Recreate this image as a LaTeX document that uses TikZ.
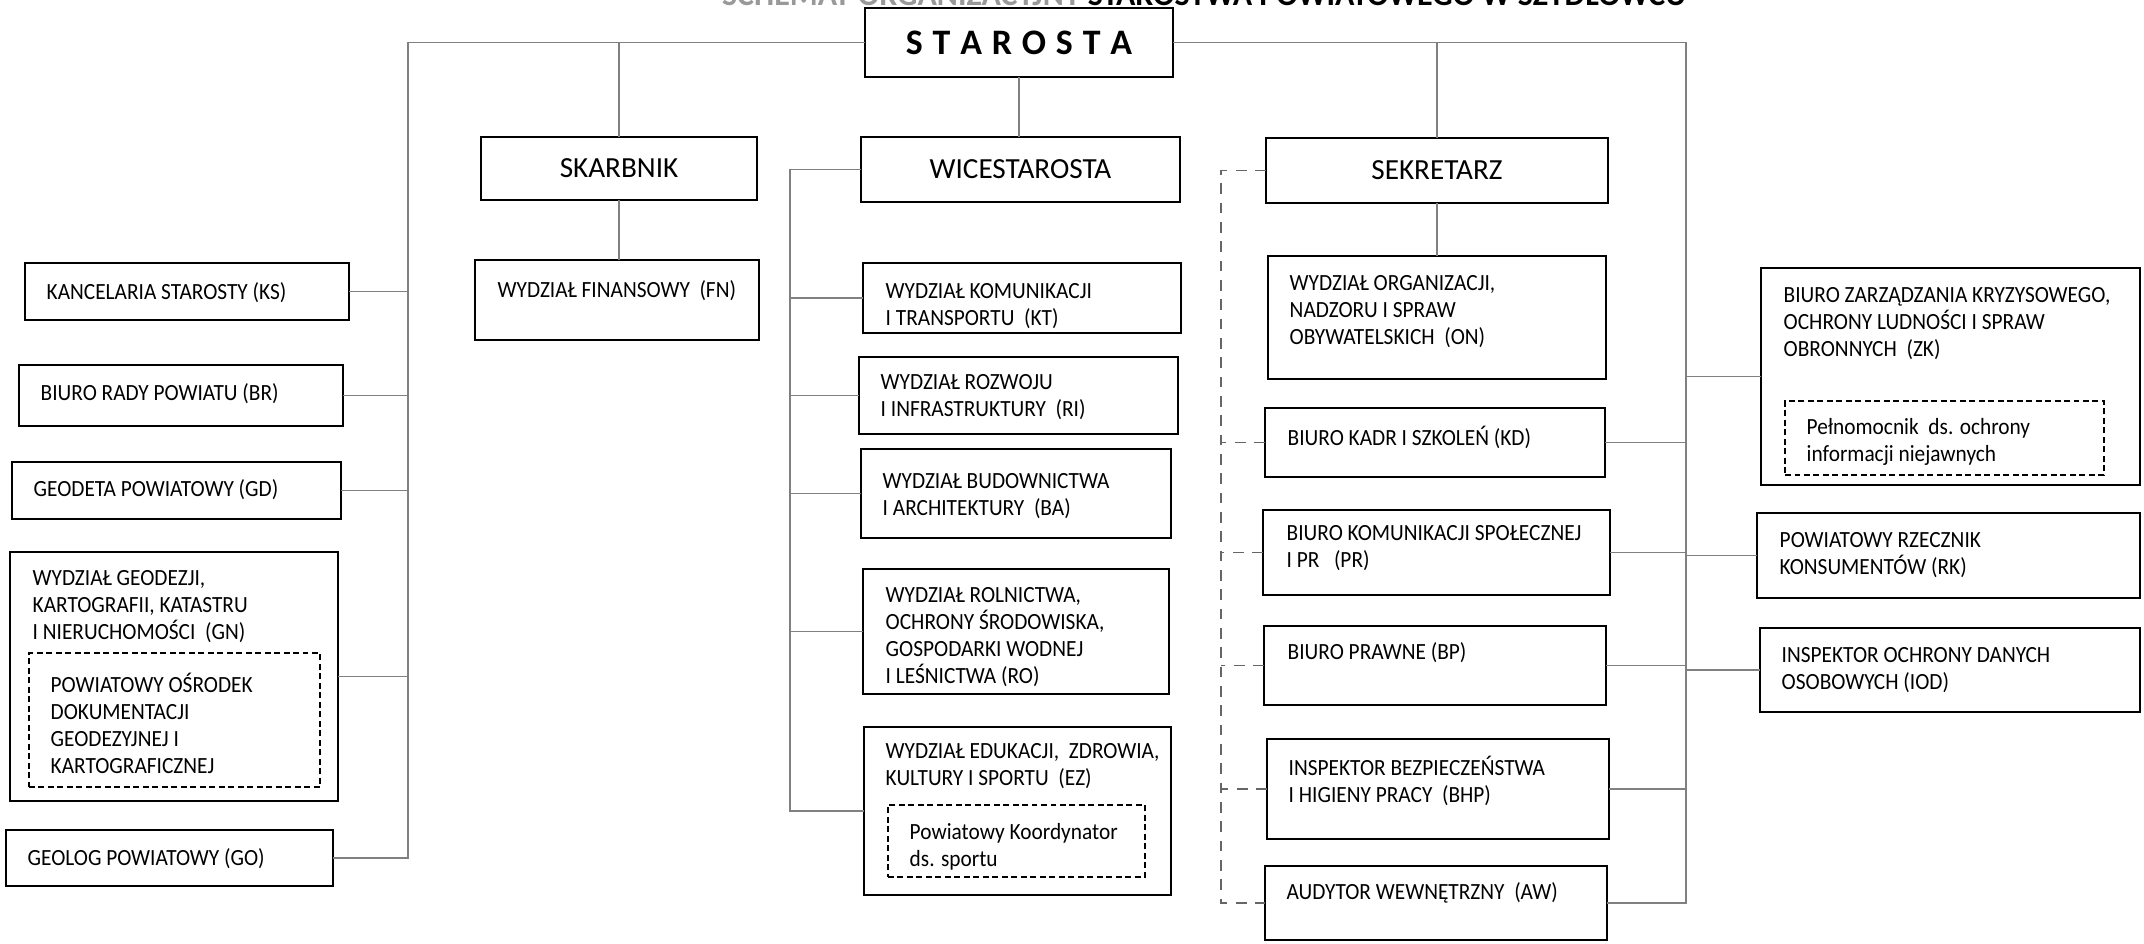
\documentclass[tikz,border=0pt]{standalone}
\usepackage{fontspec}
\setmainfont{Carlito}
\newfontfamily\narrowfont{Carlito}[FakeStretch=0.92]
\usetikzlibrary{fit}

\begin{document}
\begin{tikzpicture}
  % Ramka.
  \clip (0,0) rectangle (21.44,9.44);

  \tikzstyle{unit}=[draw, line width=0.6pt, inner sep=0pt, outer sep=0pt]
  \tikzstyle{inner}=[draw, line width=0.5pt, dash pattern=on 1.7pt off 1pt, inner sep=0pt, outer sep=0pt]
  \tikzstyle{head}=[inner sep=0pt, font=\fontsize{8.3}{10}\selectfont]
  \tikzstyle{txt}=[anchor=north west, inner sep=0pt, align=left, font=\narrowfont\fontsize{6.6}{7.7}\selectfont]
  \tikzstyle{link}=[draw=black!50, line width=0.35pt]
  \tikzstyle{dlink}=[draw=black!60, line width=0.4pt, dash pattern=on 3pt off 2.5pt]

  % Tytul.
  \node[anchor=base east, inner sep=0pt, font=\bfseries\fontsize{9.1}{11}\selectfont] (title) at (16.87,9.38)
    {{\color{black!40}SCHEMAT ORGANIZACYJNY} STAROSTWA POWIATOWEGO W SZYDŁOWCU};

  % Kierownictwo.
  \node[unit, fit={(8.65,9.36) (11.73,8.67)},
    label={[inner sep=0pt, font=\bfseries\fontsize{10.2}{12}\selectfont]center:S\kern2.8pt T\kern2.8pt A\kern2.8pt R\kern2.8pt O\kern2.8pt S\kern2.8pt T\kern2.8pt A}] (starosta) {};
  \node[unit, fit={(4.81,8.07) (7.57,7.44)}, label={[head]center:SKARBNIK}] (skarbnik) {};
  \node[unit, fit={(8.61,8.07) (11.80,7.42)}, label={[head]center:WICESTAROSTA}] (wice) {};
  \node[unit, fit={(12.66,8.06) (16.08,7.41)}, label={[head]center:SEKRETARZ}] (sekretarz) {};

  % Komorki lewe.
  \node[unit, fit={(0.25,6.81) (3.49,6.24)}] (ks) {};
  \node[unit, fit={(0.19,5.79) (3.43,5.18)}] (br) {};
  \node[unit, fit={(0.12,4.82) (3.41,4.25)}] (gd) {};
  \node[unit, fit={(0.10,3.92) (3.38,1.43)}] (gn) {};
  \node[inner, fit={(0.29,2.91) (3.20,1.57)}] (pod) {};
  \node[unit, fit={(0.06,1.14) (3.33,0.58)}] (go) {};
  \node[unit, fit={(4.75,6.84) (7.59,6.04)}] (fn) {};

  \node[txt] (ks-t) at ([shift={(0.21,-0.19)}]ks.north west) {KANCELARIA STAROSTY (KS)};
  \node[txt] (br-t) at ([shift={(0.21,-0.18)}]br.north west) {BIURO RADY POWIATU (BR)};
  \node[txt] (gd-t) at ([shift={(0.21,-0.17)}]gd.north west) {GEODETA POWIATOWY (GD)};
  \node[txt] (gn-t) at ([shift={(0.22,-0.18)}]gn.north west) {WYDZIAŁ GEODEZJI,\\KARTOGRAFII, KATASTRU\\I NIERUCHOMOŚCI\ \ (GN)};
  \node[txt] (pod-t) at ([shift={(0.21,-0.19)}]pod.north west) {POWIATOWY OŚRODEK\\DOKUMENTACJI\\GEODEZYJNEJ I\\KARTOGRAFICZNEJ};
  \node[txt] (go-t) at ([shift={(0.21,-0.18)}]go.north west) {GEOLOG POWIATOWY (GO)};
  \node[txt] (fn-t) at ([shift={(0.22,-0.20)}]fn.north west) {WYDZIAŁ FINANSOWY\ \ (FN)};

  % Wydzialy wicestarosty.
  \node[unit, fit={(8.63,6.81) (11.81,6.11)}] (kt) {};
  \node[unit, fit={(8.59,5.87) (11.78,5.10)}] (ri) {};
  \node[unit, fit={(8.61,4.95) (11.71,4.06)}] (ba) {};
  \node[unit, fit={(8.63,3.75) (11.69,2.50)}] (ro) {};
  \node[unit, fit={(8.64,2.17) (11.71,0.49)}] (ez) {};
  \node[inner, fit={(8.88,1.39) (11.45,0.67)}] (pks) {};

  \node[txt] (kt-t) at ([shift={(0.22,-0.20)}]kt.north west) {WYDZIAŁ KOMUNIKACJI\\I TRANSPORTU\ \ (KT)};
  \node[txt] (ri-t) at ([shift={(0.21,-0.17)}]ri.north west) {WYDZIAŁ ROZWOJU\\I INFRASTRUKTURY\ \ (RI)};
  \node[txt] (ba-t) at ([shift={(0.21,-0.24)}]ba.north west) {WYDZIAŁ BUDOWNICTWA\\I ARCHITEKTURY\ \ (BA)};
  \node[txt] (ro-t) at ([shift={(0.22,-0.18)}]ro.north west) {WYDZIAŁ ROLNICTWA,\\OCHRONY ŚRODOWISKA,\\GOSPODARKI WODNEJ\\I LEŚNICTWA (RO)};
  \node[txt] (ez-t) at ([shift={(0.21,-0.16)}]ez.north west) {WYDZIAŁ EDUKACJI,\ \ ZDROWIA,\\KULTURY I SPORTU\ \ (EZ)};
  \node[txt] (pks-t) at ([shift={(0.21,-0.18)}]pks.north west) {Powiatowy Koordynator\\ds. sportu};

  % Komorki sekretarza.
  \node[unit, fit={(12.68,6.88) (16.06,5.65)}] (on) {};
  \node[unit, fit={(12.65,5.36) (16.05,4.67)}] (kd) {};
  \node[unit, fit={(12.63,4.34) (16.10,3.49)}] (pr) {};
  \node[unit, fit={(12.64,3.18) (16.06,2.39)}] (bp) {};
  \node[unit, fit={(12.67,2.05) (16.09,1.05)}] (bhp) {};
  \node[unit, fit={(12.65,0.78) (16.07,0.04)}] (aw) {};

  \node[txt] (on-t) at ([shift={(0.21,-0.19)}]on.north west) {WYDZIAŁ ORGANIZACJI,\\NADZORU I SPRAW\\OBYWATELSKICH\ \ (ON)};
  \node[txt] (kd-t) at ([shift={(0.22,-0.17)}]kd.north west) {BIURO KADR I SZKOLEŃ (KD)};
  \node[txt] (pr-t) at ([shift={(0.23,-0.15)}]pr.north west) {BIURO KOMUNIKACJI SPOŁECZNEJ\\I PR\ \ \ (PR)};
  \node[txt] (bp-t) at ([shift={(0.23,-0.16)}]bp.north west) {BIURO PRAWNE (BP)};
  \node[txt] (bhp-t) at ([shift={(0.21,-0.16)}]bhp.north west) {INSPEKTOR BEZPIECZEŃSTWA\\I HIGIENY PRACY\ \ (BHP)};
  \node[txt] (aw-t) at ([shift={(0.21,-0.16)}]aw.north west) {AUDYTOR WEWNĘTRZNY\ \ (AW)};

  % Komorki prawe.
  \node[unit, fit={(17.61,6.76) (21.40,4.59)}] (zk) {};
  \node[inner, fit={(17.85,5.43) (21.04,4.69)}] (pel) {};
  \node[unit, fit={(17.57,4.31) (21.40,3.46)}] (rk) {};
  \node[unit, fit={(17.60,3.16) (21.40,2.32)}] (iod) {};

  \node[txt] (zk-t) at ([shift={(0.22,-0.19)}]zk.north west) {BIURO ZARZĄDZANIA KRYZYSOWEGO,\\OCHRONY LUDNOŚCI I SPRAW\\OBRONNYCH\ \ (ZK)};
  \node[txt] (pel-t) at ([shift={(0.21,-0.17)}]pel.north west) {Pełnomocnik\ \ ds. ochrony\\informacji niejawnych};
  \node[txt] (rk-t) at ([shift={(0.22,-0.19)}]rk.north west) {POWIATOWY RZECZNIK\\KONSUMENTÓW (RK)};
  \node[txt] (iod-t) at ([shift={(0.21,-0.19)}]iod.north west) {INSPEKTOR OCHRONY DANYCH\\OSOBOWYCH (IOD)};

  % Linie podleglosci.
  \coordinate (lt) at (4.08,0);
  \coordinate (wt) at (7.90,0);
  \coordinate (dt) at (12.21,0);
  \coordinate (rt) at (16.86,0);

  \draw[link] (starosta.west) -| (lt |- go.east) -- (go.east);
  \foreach \n in {ks, br, gd, gn}
    \draw[link] (\n.east) -- (\n.east -| lt);
  \draw[link] (skarbnik.north) -- (skarbnik.north |- starosta.west);
  \draw[link] (skarbnik.south) -- (skarbnik.south |- fn.north);
  \draw[link] (starosta.south) -- (starosta.south |- wice.north);

  \draw[link] (starosta.east) -| (rt |- aw.east) -- (aw.east);
  \draw[link] (sekretarz.north) -- (sekretarz.north |- starosta.east);
  \draw[link] (sekretarz.south) -- (sekretarz.south |- on.north);
  \foreach \n in {kd, pr, bp, bhp}
    \draw[link] (\n.east) -- (\n.east -| rt);
  \foreach \n in {zk, rk, iod}
    \draw[link] (\n.west) -- (\n.west -| rt);

  \draw[link] (wice.west) -| (wt |- ez.west) -- (ez.west);
  \foreach \n in {kt, ri, ba, ro}
    \draw[link] (\n.west) -- (\n.west -| wt);

  \draw[dlink] (sekretarz.west) -| (dt |- aw.west) -- (aw.west);
  \foreach \n in {kd, pr, bp, bhp}
    \draw[dlink] (\n.west) -- (\n.west -| dt);
\end{tikzpicture}
\end{document}
